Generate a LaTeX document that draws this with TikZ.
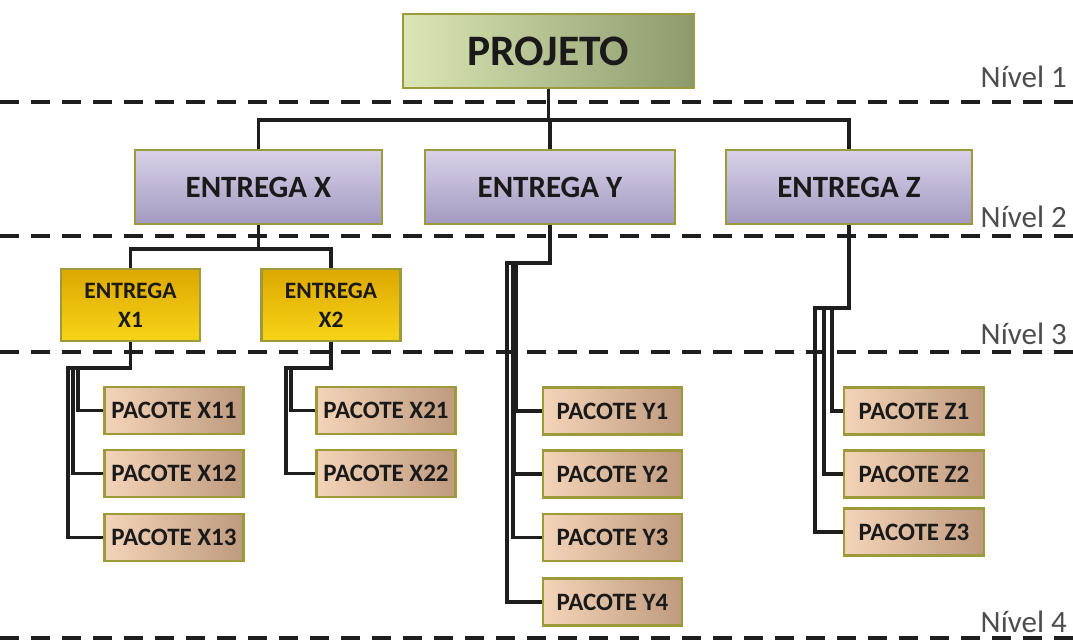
\documentclass[tikz,border=0pt]{standalone}
\usepackage{fontspec}
\setmainfont{Carlito}
\definecolor{bord}{HTML}{9C9A3A}
\definecolor{projL}{HTML}{DCE6B4}
\definecolor{projR}{HTML}{8C9A6C}
\definecolor{entT}{HTML}{D8D1E8}
\definecolor{entB}{HTML}{A39AC0}
\definecolor{goldT}{HTML}{DDA800}
\definecolor{goldB}{HTML}{F7D418}
\definecolor{pacL}{HTML}{F4D4B8}
\definecolor{pacR}{HTML}{BE9A7E}
\definecolor{txt}{HTML}{1A1A1A}
\definecolor{lvl}{HTML}{4D4D4D}
\definecolor{ln}{HTML}{1E1E1E}
\tikzset{
  boxbase/.style={draw=bord, line width=2.2pt, rectangle, inner sep=0pt, text=txt, align=center},
  projbox/.style={boxbase, left color=projL, right color=projR, minimum width=291pt, minimum height=74pt,
     font=\fontsize{43.5}{46}\selectfont\bfseries},
  entbox/.style={boxbase, top color=entT, bottom color=entB, minimum height=74pt,
     font=\fontsize{31}{34}\selectfont\bfseries},
  goldbox/.style={boxbase, top color=goldT, bottom color=goldB, minimum width=139pt, minimum height=72pt,
     font=\fontsize{23.5}{29}\selectfont\bfseries},
  pacbox/.style={boxbase, left color=pacL, right color=pacR, minimum width=139pt, minimum height=47pt,
     font=\fontsize{25}{28}\selectfont\bfseries},
  lvllabel/.style={anchor=base east, text=lvl, inner sep=0pt, font=\fontsize{31}{34}\selectfont},
  levelline/.style={draw=ln, line width=3.5pt, dash pattern=on 19pt off 12pt},
  conn/.style={draw=ln, line width=3.3pt},
}
\begin{document}
\begin{tikzpicture}[x=1pt,y=-1pt]
\useasboundingbox (0,0) rectangle (1073,643);
% level lines
\coordinate (l1a) at (0,102); \coordinate (l1b) at (1073,102);
\coordinate (l2a) at (0,236); \coordinate (l2b) at (1073,236);
\coordinate (l3a) at (0,352); \coordinate (l3b) at (1073,352);
\coordinate (l4a) at (0,638); \coordinate (l4b) at (1073,638);
\draw[levelline] (l1a) -- (l1b);
\draw[levelline] (l2a) -- (l2b);
\draw[levelline] (l3a) -- (l3b);
\draw[levelline] (l4a) -- (l4b);
\node[lvllabel] (n1) at (1067,87) {Nível 1};
\node[lvllabel] (n2) at (1067,227) {Nível 2};
\node[lvllabel] (n3) at (1067,344) {Nível 3};
\node[lvllabel] (n4) at (1067,632) {Nível 4};
% nodes
\node[projbox] (p) at (548.5,51) {PROJETO};
\node[entbox, minimum width=247pt] (ex) at (258.5,187) {ENTREGA X};
\node[entbox, minimum width=250pt] (ey) at (550,187) {ENTREGA Y};
\node[entbox, minimum width=246pt] (ez) at (849,187) {ENTREGA Z};
\node[goldbox] (x1) at (130.5,305) {ENTREGA\\X1};
\node[goldbox] (x2) at (331,305) {ENTREGA\\X2};
\node[pacbox] (px11) at (174,410.5) {PACOTE X11};
\node[pacbox] (px12) at (174,473.5) {PACOTE X12};
\node[pacbox] (px13) at (174,537.5) {PACOTE X13};
\node[pacbox] (px21) at (386,410.5) {PACOTE X21};
\node[pacbox] (px22) at (386,473.5) {PACOTE X22};
\node[pacbox] (py1) at (612.5,411) {PACOTE Y1};
\node[pacbox] (py2) at (612.5,474) {PACOTE Y2};
\node[pacbox] (py3) at (612.5,537.5) {PACOTE Y3};
\node[pacbox] (py4) at (612.5,602) {PACOTE Y4};
\node[pacbox, minimum width=140pt] (pz1) at (914,411) {PACOTE Z1};
\node[pacbox, minimum width=140pt] (pz2) at (914,474) {PACOTE Z2};
\node[pacbox, minimum width=140pt] (pz3) at (914,532) {PACOTE Z3};
% connectors level 1-2
\coordinate (b1) at (0,120);
\draw[conn] (p.south) -- (p.south |- b1);
\draw[conn] (ex.north) |- (ez.north |- b1) -- (ez.north);
\draw[conn] (ey.north) -- (ey.north |- b1);
% level 2-3 (X)
\coordinate (b2) at (0,249);
\draw[conn] (ex.south) -- (ex.south |- b2);
\draw[conn] (x1.north) |- (x2.north |- b2) -- (x2.north);
% X1 bundle
\coordinate (k11) at (78,368);
\coordinate (k12) at (73,368);
\coordinate (k13) at (68,368);
\draw[conn] (x1.south) |- (k11) |- (px11.west);
\draw[conn] (x1.south) |- (k12) |- (px12.west);
\draw[conn] (x1.south) |- (k13) |- (px13.west);
% X2 bundle
\coordinate (k21) at (291,368);
\coordinate (k22) at (286,368);
\draw[conn] (x2.south) |- (k21) |- (px21.west);
\draw[conn] (x2.south) |- (k22) |- (px22.west);
% Y bundle
\coordinate (ky1) at (516,263);
\coordinate (ky2) at (514,263);
\coordinate (ky3) at (513,263);
\coordinate (ky4) at (507,263);
\draw[conn] (ey.south) |- (ky1) |- (py1.west);
\draw[conn] (ey.south) |- (ky2) |- (py2.west);
\draw[conn] (ey.south) |- (ky3) |- (py3.west);
\draw[conn] (ey.south) |- (ky4) |- (py4.west);
% Z bundle
\coordinate (kz1) at (832,308);
\coordinate (kz2) at (824,308);
\coordinate (kz3) at (815,308);
\draw[conn] (ez.south) |- (kz1) |- (pz1.west);
\draw[conn] (ez.south) |- (kz2) |- (pz2.west);
\draw[conn] (ez.south) |- (kz3) |- (pz3.west);
\end{tikzpicture}
\end{document}
